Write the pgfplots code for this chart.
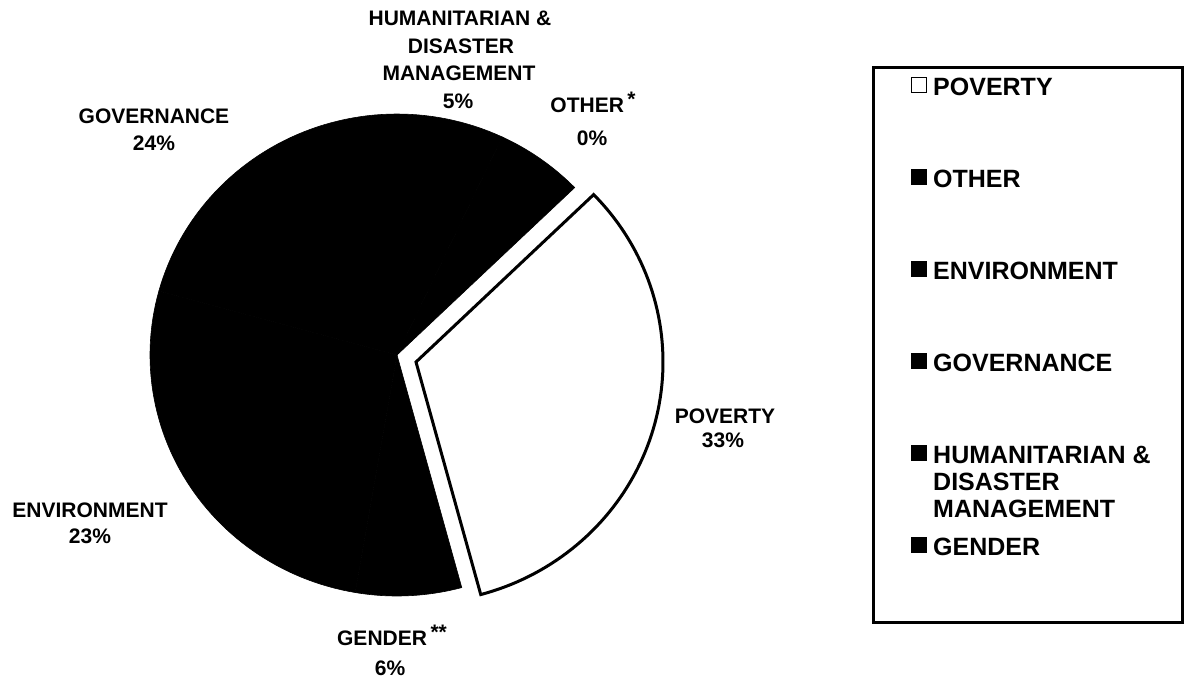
\documentclass[border=0pt]{standalone}
\usepackage{fontspec}
\setmainfont{Liberation Sans}
\usepackage{pgfplots}
\pgfplotsset{compat=1.18}

% ---- data (percent) ----
\def\vPoverty{33}
\def\vOther{0}
\def\vEnvironment{23}
\def\vGovernance{24}
\def\vHumanitarian{5}
\def\vGender{6}

% ---- geometry (pixel units, y downward) ----
\def\cxB{397}\def\cyB{355}\def\rxB{247}\def\ryB{241}
\def\cxP{416}\def\cyP{362}
\pgfmathsetmacro{\aStart}{44}
\pgfmathsetmacro{\aPovEnd}{\aStart-3.6*\vPoverty}
\pgfmathsetmacro{\kfac}{(360-3.6*\vPoverty)/(\vOther+\vHumanitarian+\vGovernance+\vEnvironment+\vGender)}
\pgfmathsetmacro{\aA}{\aStart+\kfac*\vOther}
\pgfmathsetmacro{\aB}{\aA+\kfac*\vHumanitarian}
\pgfmathsetmacro{\aC}{\aB+\kfac*\vGovernance}
\pgfmathsetmacro{\aD}{\aC+\kfac*\vEnvironment}
\pgfmathsetmacro{\aE}{\aD+\kfac*\vGender}

\newcommand{\LE}[1]{\parbox[t]{240pt}{\raggedright\fontsize{25}{27}\selectfont\bfseries #1}}
\tikzset{lab/.style={font=\fontsize{21}{28}\selectfont\bfseries, anchor=base, inner sep=0pt}}

\begin{document}
\begin{tikzpicture}
\begin{axis}[
  scale only axis, width=1185pt, height=680pt,
  xmin=0, xmax=1185, ymin=0, ymax=680, y dir=reverse,
  hide axis, clip=false,
  legend image code/.code={\draw[#1, line width=1pt] (0pt,-5pt) rectangle (15pt,10pt);},
  legend style={at={(axis cs:911,77)}, anchor=north west, draw=none, fill=none,
    inner sep=0pt, row sep=72pt, column sep=6pt, nodes={inner sep=0pt}},
  legend cell align=left,
]
% invisible corners to fix the bounding box
\addplot[draw=none, forget plot] coordinates {(0,0) (1185,680)};

% black slices (all drawn in black)
\addplot[draw=black, fill=black, line width=0.6pt, domain=\aA:\aB, samples=30, forget plot]
  ({\cxB+\rxB*cos(x)},{\cyB-\ryB*sin(x)}) -- (axis cs:\cxB,\cyB) -- cycle;
\addplot[draw=black, fill=black, line width=0.6pt, domain=\aB:\aC, samples=60, forget plot]
  ({\cxB+\rxB*cos(x)},{\cyB-\ryB*sin(x)}) -- (axis cs:\cxB,\cyB) -- cycle;
\addplot[draw=black, fill=black, line width=0.6pt, domain=\aC:\aD, samples=60, forget plot]
  ({\cxB+\rxB*cos(x)},{\cyB-\ryB*sin(x)}) -- (axis cs:\cxB,\cyB) -- cycle;
\addplot[draw=black, fill=black, line width=0.6pt, domain=\aD:\aE, samples=30, forget plot]
  ({\cxB+\rxB*cos(x)},{\cyB-\ryB*sin(x)}) -- (axis cs:\cxB,\cyB) -- cycle;
% exploded poverty slice
\addplot[draw=black, fill=white, line width=3pt, line join=miter, domain=\aPovEnd:\aStart, samples=80, forget plot]
  ({\cxP+\rxB*cos(x)},{\cyP-\ryB*sin(x)}) -- (axis cs:\cxP,\cyP) -- cycle;

% legend
\addlegendimage{fill=white, draw=black}
\addlegendentry{\LE{POVERTY}}
\addlegendimage{fill=black, draw=black}
\addlegendentry{\LE{OTHER}}
\addlegendimage{fill=black, draw=black}
\addlegendentry{\LE{ENVIRONMENT}}
\addlegendimage{fill=black, draw=black}
\addlegendentry{\LE{GOVERNANCE}}
\addlegendimage{fill=black, draw=black}
\addlegendentry{\LE{HUMANITARIAN \&\\DISASTER\\MANAGEMENT}}
\addlegendimage{fill=black, draw=black}
\addlegendentry{\LE{GENDER}}

% legend frame
\draw[line width=3pt] (axis cs:873,67) rectangle (axis cs:1182,622);

% slice labels
\node[lab] at (axis cs:460,25) {HUMANITARIAN \&};
\node[lab] at (axis cs:461,53) {DISASTER};
\node[lab] at (axis cs:459,80) {MANAGEMENT};
\node[lab] at (axis cs:458,108) {5\%};
\node[lab] at (axis cs:593,112) {OTHER\,\raisebox{6pt}{*}};
\node[lab] at (axis cs:592,145) {0\%};
\node[lab] at (axis cs:154,123) {GOVERNANCE};
\node[lab] at (axis cs:154,150) {24\%};
\node[lab] at (axis cs:90,517) {ENVIRONMENT};
\node[lab] at (axis cs:90,543) {23\%};
\node[lab] at (axis cs:725,423) {POVERTY};
\node[lab] at (axis cs:723,447) {33\%};
\node[lab] at (axis cs:392,645) {GENDER\,\raisebox{6pt}{**}};
\node[lab] at (axis cs:390,675) {6\%};
\end{axis}
\end{tikzpicture}
\end{document}
